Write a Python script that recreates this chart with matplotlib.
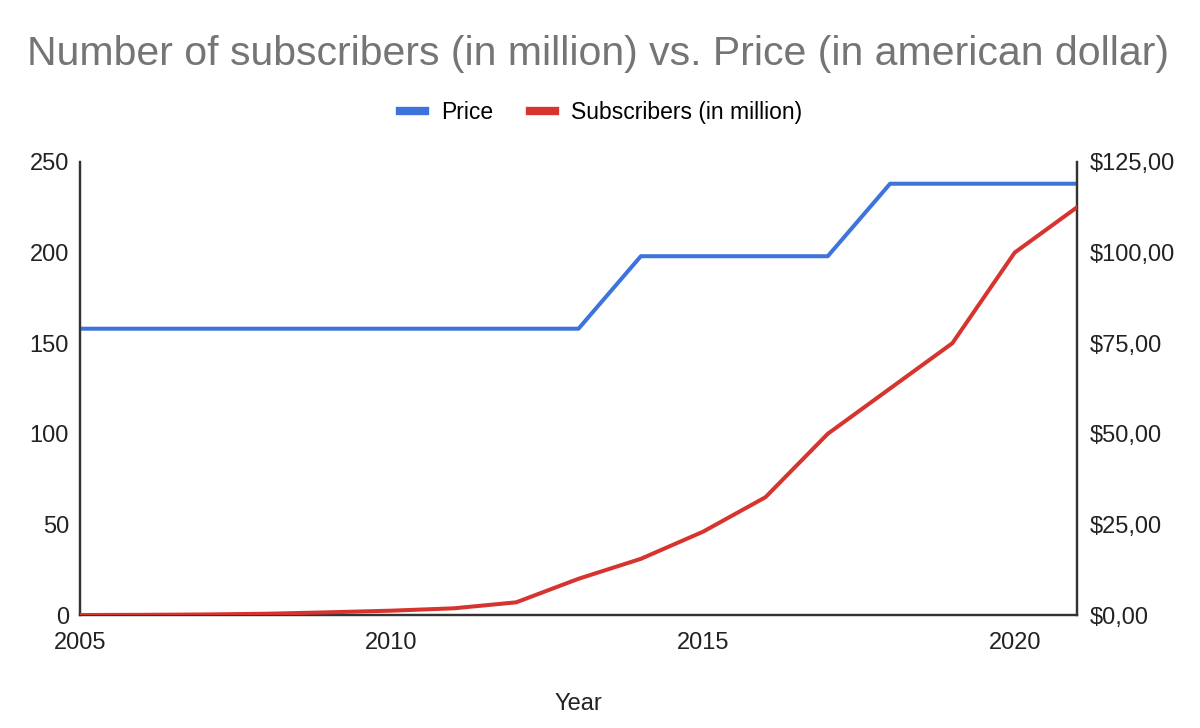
import matplotlib
matplotlib.use("Agg")
import matplotlib.pyplot as plt
from matplotlib.lines import Line2D
from matplotlib.ticker import FuncFormatter

plt.rcParams['font.family'] = ['Liberation Sans', 'DejaVu Sans']

# data
years = [2005, 2006, 2007, 2008, 2009, 2010, 2011, 2012, 2013,
         2014, 2015, 2016, 2017, 2018, 2019, 2020, 2021]
price = [79, 79, 79, 79, 79, 79, 79, 79, 79,
         99, 99, 99, 99, 119, 119, 119, 119]
subscribers = [0, 0.1, 0.3, 0.7, 1.5, 2.4, 3.7, 7, 20,
               31, 46, 65, 100, 125, 150, 200, 225]

left_ticks = [0, 50, 100, 150, 200, 250]
right_ticks = [0, 25, 50, 75, 100, 125]
year_ticks = [2005, 2010, 2015, 2020]

blue = '#3d74dc'
red = '#d6352f'
axis_col = '#333333'

fig = plt.figure(figsize=(12, 7.28), dpi=100)
ax = fig.add_axes([0.0667, 0.1552, 0.8308, 0.6223])
ax2 = ax.twinx()

ax.plot(years, subscribers, color=red, lw=2.9, solid_joinstyle='round', zorder=3)
ax2.plot(years, price, color=blue, lw=2.9, solid_joinstyle='round', zorder=3)

ax.set_xlim(2005, 2021)
ax.set_ylim(0, 250)
ax2.set_ylim(0, 125)
ax.set_xticks(year_ticks)
ax.set_yticks(left_ticks)
ax2.set_yticks(right_ticks)
ax2.yaxis.set_major_formatter(FuncFormatter(lambda v, p: '$' + f'{v:.2f}'.replace('.', ',')))

for a in (ax, ax2):
    a.spines['top'].set_visible(False)
    for s in ('left', 'right', 'bottom'):
        a.spines[s].set_color(axis_col)
        a.spines[s].set_linewidth(1.6)
    a.tick_params(length=0, labelsize=17, colors='#222222')
ax.tick_params(axis='y', pad=8)
ax.tick_params(axis='x', pad=12)
ax2.tick_params(axis='y', pad=9)
ax.set_zorder(ax2.get_zorder() + 1)
ax.patch.set_visible(False)

ax.set_xlabel('Year', fontsize=17, color='#222222', labelpad=28)

fig.text(0.498, 0.926, 'Number of subscribers (in million) vs. Price (in american dollar)',
         ha='center', va='center', fontsize=29.5, color='#757575')

handles = [Line2D([], [], color=blue, lw=6), Line2D([], [], color=red, lw=6)]
fig.legend(handles, ['Price', 'Subscribers (in million)'], loc='center',
           bbox_to_anchor=(0.501, 0.846), ncol=2, frameon=False, fontsize=16.5,
           handlelength=1.1, handletextpad=0.7, columnspacing=1.6)

fig.savefig('out.png', dpi=100, facecolor='white')
